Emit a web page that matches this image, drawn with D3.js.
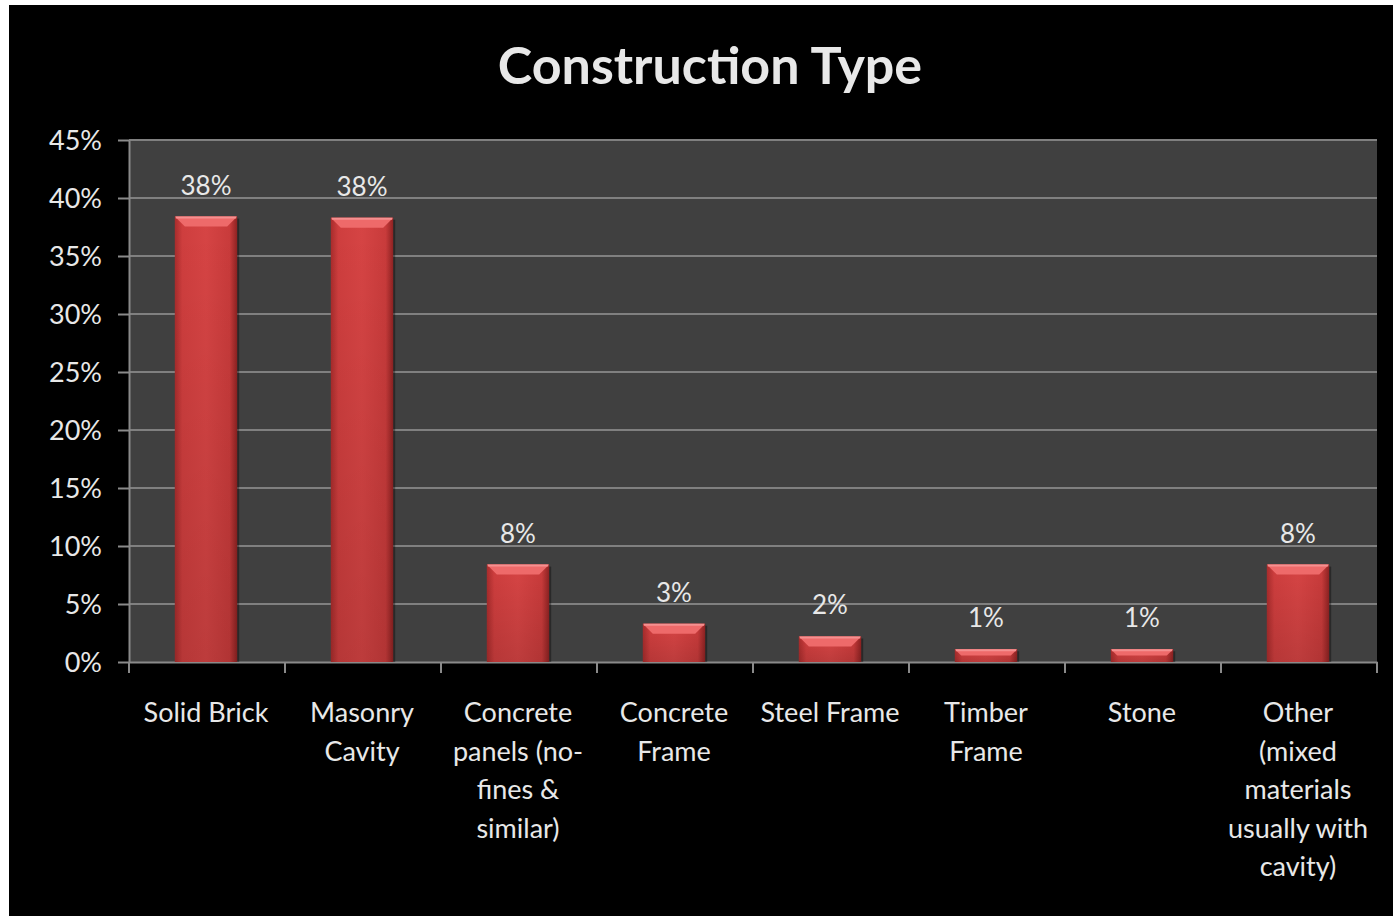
<!DOCTYPE html>
<html lang="en">
  <head>
    <title>Construction Type</title>
    <script src="https://d3js.org/d3.v7.min.js"></script>
    <style>
      body { margin: 0; background: #ffffff; }
      svg { display: block; }
      text { font-family: Lato, "Open Sans", sans-serif; fill: #e8e8e8; }
    </style>
  </head>
  <body>
    <svg width="1393" height="916"></svg>

    <script>
      // chart data
      var categories = ["Solid Brick", "Masonry Cavity", "Concrete panels (no-fines & similar)",
                        "Concrete Frame", "Steel Frame", "Timber Frame", "Stone",
                        "Other (mixed materials usually with cavity)"];
      var categoryLines = [["Solid Brick"], ["Masonry", "Cavity"], ["Concrete", "panels (no-", "fines &", "similar)"],
                           ["Concrete", "Frame"], ["Steel Frame"], ["Timber", "Frame"], ["Stone"],
                           ["Other", "(mixed", "materials", "usually with", "cavity)"]];
      var values = [0.384, 0.383, 0.084, 0.033, 0.022, 0.011, 0.011, 0.084];
      var yTicks = [0, 0.05, 0.10, 0.15, 0.20, 0.25, 0.30, 0.35, 0.40, 0.45];

      var svg = d3.select("svg");

      // black chart background (white strip at top/left like the screenshot)
      svg.append("rect").attr("x", 9).attr("y", 5).attr("width", 1393 - 9).attr("height", 916 - 5)
         .attr("fill", "#000");

      var plotLeft = 129, plotRight = 1377, plotTop = 140, plotBottom = 662;

      var x = d3.scaleBand().domain(categories).range([plotLeft, plotRight]).paddingInner(0).paddingOuter(0);
      var y = d3.scaleLinear().domain([0, 0.45]).range([plotBottom, plotTop]);
      var fmt = d3.format(".0%");

      var defs = svg.append("defs");
      var grad = defs.append("linearGradient").attr("id", "barGrad")
                     .attr("x1", "0").attr("x2", "1").attr("y1", "0").attr("y2", "0");
      grad.append("stop").attr("offset", "0").attr("stop-color", "#a82c2c");
      grad.append("stop").attr("offset", "0.12").attr("stop-color", "#cf3e3e");
      grad.append("stop").attr("offset", "0.5").attr("stop-color", "#d64444");
      grad.append("stop").attr("offset", "0.88").attr("stop-color", "#c93b3b");
      grad.append("stop").attr("offset", "1").attr("stop-color", "#8e2222");

      var vgrad = defs.append("linearGradient").attr("id", "shade")
                      .attr("x1", "0").attr("x2", "0").attr("y1", "0").attr("y2", "1");
      vgrad.append("stop").attr("offset", "0").attr("stop-color", "#000").attr("stop-opacity", 0);
      vgrad.append("stop").attr("offset", "1").attr("stop-color", "#000").attr("stop-opacity", 0.12);

      // plot area
      svg.append("rect").attr("x", plotLeft).attr("y", plotTop)
         .attr("width", plotRight - plotLeft).attr("height", plotBottom - plotTop)
         .attr("fill", "#404040");

      // gridlines
      svg.append("g").selectAll("line").data(yTicks.filter(function(d){ return d > 0; })).enter()
         .append("line")
         .attr("x1", plotLeft).attr("x2", plotRight)
         .attr("y1", function(d){ return y(d); }).attr("y2", function(d){ return y(d); })
         .attr("stroke", "#808080").attr("stroke-width", 2);

      // y axis
      var yAxis = svg.append("g").attr("transform", "translate(" + plotLeft + ",0)")
                     .call(d3.axisLeft(y).tickValues(yTicks).tickFormat(fmt)
                             .tickSizeInner(11).tickSizeOuter(0).tickPadding(16));
      yAxis.select(".domain").attr("stroke", "#8a8a8a").attr("stroke-width", 2);
      yAxis.selectAll(".tick line").attr("stroke", "#8a8a8a").attr("stroke-width", 2);
      yAxis.selectAll(".tick text").attr("font-size", 27).attr("font-family", "Lato, sans-serif")
           .attr("fill", "#e8e8e8").attr("dy", "0.36em");

      // x axis
      var xAxis = svg.append("g").attr("transform", "translate(0," + plotBottom + ")")
                     .call(d3.axisBottom(x).tickSizeInner(0).tickSizeOuter(0).tickFormat(""));
      xAxis.select(".domain").attr("stroke", "#8a8a8a").attr("stroke-width", 2);
      xAxis.selectAll(".tick").remove();
      var bounds = categories.map(function(c){ return x(c); }).concat([plotRight]);
      xAxis.selectAll("line.sep").data(bounds).enter().append("line").attr("class", "sep")
           .attr("x1", function(d){ return d; }).attr("x2", function(d){ return d; })
           .attr("y1", 0).attr("y2", 11)
           .attr("stroke", "#8a8a8a").attr("stroke-width", 2);

      // bars
      var barW = x.bandwidth() * 0.4;
      var bars = svg.append("g").selectAll("g.bar").data(values).enter().append("g").attr("class", "bar");
      function bx(d, i){ return x(categories[i]) + x.bandwidth() / 2 - barW / 2 - 1; }

      bars.append("rect")
          .attr("x", function(d, i){ return bx(d, i) + 2; })
          .attr("y", function(d){ return y(d) + 2; })
          .attr("width", barW).attr("height", function(d){ return plotBottom - y(d) - 2; })
          .attr("fill", "#000").attr("opacity", 0.35);
      bars.append("rect")
          .attr("x", bx).attr("y", function(d){ return y(d); })
          .attr("width", barW).attr("height", function(d){ return plotBottom - y(d); })
          .attr("fill", "url(#barGrad)");
      bars.append("rect")
          .attr("x", bx).attr("y", function(d){ return y(d); })
          .attr("width", barW).attr("height", function(d){ return plotBottom - y(d); })
          .attr("fill", "url(#shade)");
      // top bevel
      bars.append("path")
          .attr("d", function(d, i){
            var x0 = bx(d, i), y0 = y(d), h = Math.min(10, (plotBottom - y0) / 2);
            return "M" + x0 + "," + y0 + "L" + (x0 + barW) + "," + y0 +
                   "L" + (x0 + barW - h) + "," + (y0 + h) + "L" + (x0 + h) + "," + (y0 + h) + "Z";
          })
          .attr("fill", "#ee6a6a");
      bars.append("line")
          .attr("x1", function(d, i){ return bx(d, i) + 1; })
          .attr("x2", function(d, i){ return bx(d, i) + barW - 1; })
          .attr("y1", function(d){ return y(d) + 1; }).attr("y2", function(d){ return y(d) + 1; })
          .attr("stroke", "#f59090").attr("stroke-width", 2);

      // value labels
      svg.append("g").selectAll("text").data(values).enter().append("text")
         .attr("x", function(d, i){ return x(categories[i]) + x.bandwidth() / 2 - 1; })
         .attr("y", function(d){ return y(d) - 22; })
         .attr("text-anchor", "middle").attr("font-size", 26)
         .text(function(d){ return fmt(d); });

      // category labels
      var catLabels = svg.append("g").selectAll("text").data(categories).enter().append("text")
         .attr("x", function(d){ return x(d) + x.bandwidth() / 2; })
         .attr("y", 722)
         .attr("text-anchor", "middle").attr("font-size", 27);
      catLabels.each(function(d, i){
        var t = d3.select(this);
        categoryLines[i].forEach(function(line, j){
          t.append("tspan").attr("x", x(d) + x.bandwidth() / 2 - 1).attr("dy", j === 0 ? 0 : 38.5).text(line);
        });
      });

      // title
      svg.append("text").attr("x", 710).attr("y", 84).attr("text-anchor", "middle")
         .attr("font-size", 52).attr("font-weight", "bold").attr("fill", "#ffffff")
         .text("Construction Type");
    </script>
  </body>
</html>
